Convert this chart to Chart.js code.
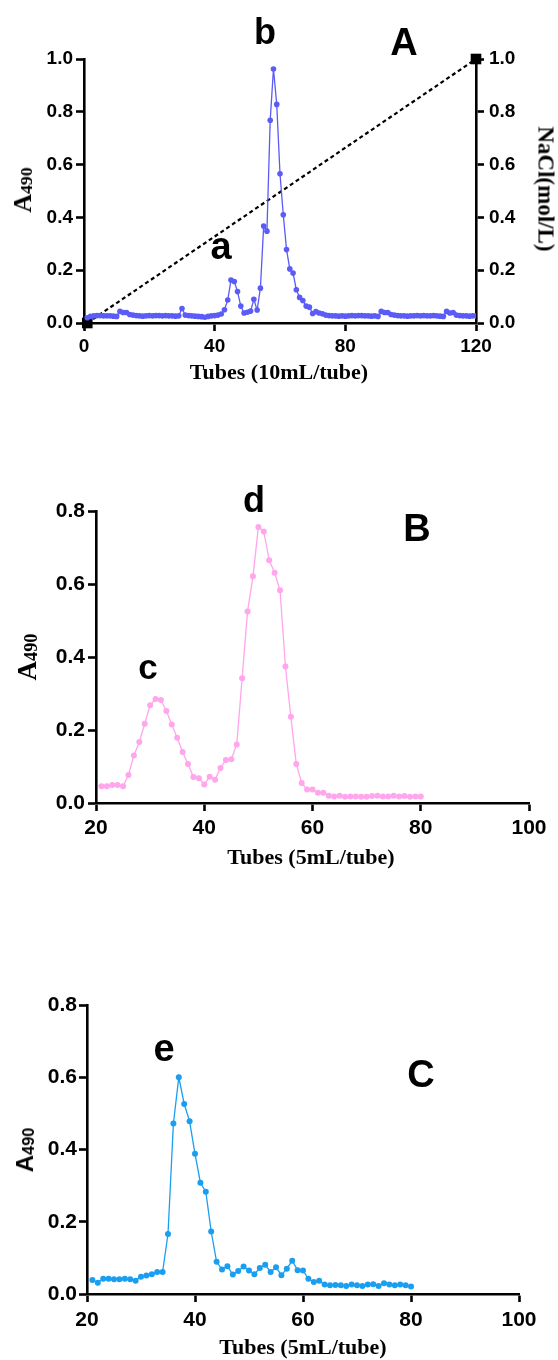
<!DOCTYPE html>
<html>
<head>
<meta charset="utf-8">
<script src="https://cdn.jsdelivr.net/npm/chart.js@4"></script>
<style>
    body { margin: 0; background: #fff; }
    #page { position: relative; width: 558px; height: 1360px; overflow: hidden; background: #fff; }
    .panel { position: absolute; left: 0; }
    .txt { position: absolute; white-space: nowrap; line-height: 1; color: #000; font-weight: bold; }
    .sans { font-family: 'Liberation Sans', Arial, sans-serif; }
    .serif { font-family: 'Liberation Serif', 'Times New Roman', serif; }
    .letter { transform: translateX(-50%); }
    .rot-l { transform: translate(-50%, -50%) rotate(-90deg); }
    .rot-r { transform: translate(-50%, -50%) rotate(90deg); }
    sub { font-size: 0.68em; vertical-align: -1px; }
</style>
</head>
<body>
<div id="page">
    <div class="panel" style="top:0px"><canvas id="chartA" width="558" height="400"></canvas></div>
    <div class="panel" style="top:440px"><canvas id="chartB" width="558" height="440"></canvas></div>
    <div class="panel" style="top:960px"><canvas id="chartC" width="558" height="400"></canvas></div>

    <!-- panel A texts -->
    <div class="txt sans letter" style="left:265px; top:14px; font-size:36px;">b</div>
    <div class="txt sans letter" style="left:404px; top:23px; font-size:38px;">A</div>
    <div class="txt sans letter" style="left:221px; top:227px; font-size:38px;">a</div>
    <div class="txt serif letter" style="left:279px; top:361px; font-size:22px;">Tubes (10mL/tube)</div>
    <div class="txt serif rot-l" style="left:23px; top:190px; font-size:26px;">A<sub>490</sub></div>
    <div class="txt serif rot-r" style="left:546px; top:189px; font-size:23px;">NaCl(mol/L)</div>

    <!-- panel B texts -->
    <div class="txt sans letter" style="left:254px; top:482px; font-size:36px;">d</div>
    <div class="txt sans letter" style="left:417px; top:509px; font-size:38px;">B</div>
    <div class="txt sans letter" style="left:148px; top:649px; font-size:35px;">c</div>
    <div class="txt serif letter" style="left:311px; top:846px; font-size:22px;">Tubes (5mL/tube)</div>
    <div class="txt serif rot-l" style="left:27px; top:657px; font-size:27px;">A<sub>490</sub></div>

    <!-- panel C texts -->
    <div class="txt sans letter" style="left:164px; top:1029px; font-size:38px;">e</div>
    <div class="txt sans letter" style="left:421px; top:1055px; font-size:38px;">C</div>
    <div class="txt serif letter" style="left:303px; top:1336px; font-size:22px;">Tubes (5mL/tube)</div>
    <div class="txt sans rot-l" style="left:25px; top:1150px; font-size:24px;">A<sub>490</sub></div>
</div>

<script>
// panel A: DEAE column, tubes 1..120 (10 mL/tube)
const absA = [
    0.020, 0.025, 0.027, 0.028, 0.028, 0.027, 0.027, 0.027, 0.026, 0.025,
    0.044, 0.040, 0.040, 0.032, 0.030, 0.028, 0.027, 0.026, 0.027, 0.028,
    0.027, 0.028, 0.028, 0.027, 0.028, 0.027, 0.027, 0.026, 0.027, 0.055,
    0.030, 0.028, 0.027, 0.026, 0.025, 0.024, 0.022, 0.025, 0.027, 0.028,
    0.030, 0.034, 0.050, 0.087, 0.163, 0.157, 0.119, 0.064, 0.038, 0.041,
    0.045, 0.090, 0.049, 0.132, 0.367, 0.348, 0.768, 0.962, 0.828, 0.565,
    0.410, 0.278, 0.205, 0.189, 0.126, 0.097, 0.085, 0.064, 0.060, 0.036,
    0.043, 0.038, 0.035, 0.030, 0.028, 0.027, 0.027, 0.026, 0.027, 0.026,
    0.027, 0.028, 0.027, 0.028, 0.028, 0.027, 0.027, 0.026, 0.027, 0.025,
    0.044, 0.040, 0.040, 0.032, 0.030, 0.028, 0.027, 0.027, 0.026, 0.027,
    0.027, 0.028, 0.027, 0.028, 0.027, 0.027, 0.028, 0.027, 0.026, 0.025,
    0.044, 0.038, 0.040, 0.030, 0.028, 0.027, 0.027, 0.026, 0.027, 0.027
];
const naclTubes = [1, 120];
const naclConc = [0.0, 1.0];

// panel B: tubes 21..80 (5 mL/tube)
const absB = [
    0.046, 0.046, 0.049, 0.049, 0.046, 0.077, 0.130, 0.167, 0.217, 0.268,
    0.285, 0.282, 0.252, 0.215, 0.179, 0.140, 0.107, 0.071, 0.068, 0.051,
    0.072, 0.064, 0.096, 0.118, 0.120, 0.160, 0.342, 0.525, 0.621, 0.756,
    0.744, 0.665, 0.631, 0.583, 0.374, 0.236, 0.107, 0.055, 0.037, 0.037,
    0.028, 0.028, 0.020, 0.018, 0.020, 0.017, 0.018, 0.018, 0.017, 0.017,
    0.019, 0.020, 0.018, 0.018, 0.020, 0.018, 0.019, 0.017, 0.018, 0.018
];

// panel C: tubes 21..80 (5 mL/tube)
const absC = [
    0.039, 0.031, 0.042, 0.042, 0.041, 0.041, 0.042, 0.041, 0.037, 0.048,
    0.051, 0.055, 0.061, 0.061, 0.166, 0.472, 0.600, 0.526, 0.478, 0.388,
    0.308, 0.283, 0.173, 0.089, 0.068, 0.077, 0.054, 0.064, 0.076, 0.065,
    0.055, 0.072, 0.081, 0.061, 0.074, 0.052, 0.070, 0.092, 0.066, 0.065,
    0.042, 0.033, 0.037, 0.026, 0.024, 0.025, 0.024, 0.022, 0.026, 0.024,
    0.022, 0.026, 0.027, 0.022, 0.030, 0.026, 0.024, 0.026, 0.024, 0.021
];

const firstTubeA = 1;
const firstTubeBC = 21;

function toPoints(values, first) {
    return values.map(function(v, i) { return { x: first + i, y: v }; });
}

function axisStyle(extra) {
    const base = {
        border: { display: true, color: '#000', width: 2.6 },
        grid: { display: true, drawOnChartArea: false, drawTicks: true, tickLength: 8, tickWidth: 2.6, tickColor: '#000' },
        ticks: { color: '#000' }
    };
    return Object.assign(base, extra);
}

function fixWidth(w) { return function(scale) { scale.width = w; }; }
function fixHeight(h) { return function(scale) { scale.height = h; }; }

document.addEventListener("DOMContentLoaded", function() {

    Chart.defaults.font.family = "'Liberation Sans', Arial, sans-serif";
    Chart.defaults.font.weight = 'bold';
    Chart.defaults.color = '#000';

    const oneDecimal = function(value) { return value.toFixed(1); };

    // ---- panel A ----
    const xA = axisStyle({ type: 'linear', min: 0, max: 120, afterFit: fixHeight(77) });
    xA.ticks = { color: '#000', stepSize: 40, padding: 4, font: { size: 19, weight: 'bold' } };
    const yA = axisStyle({ type: 'linear', position: 'left', min: 0, max: 1.0, afterFit: fixWidth(84) });
    yA.ticks = { color: '#000', stepSize: 0.2, padding: 3, callback: oneDecimal, font: { size: 19, weight: 'bold' } };
    const y2A = axisStyle({ type: 'linear', position: 'right', min: 0, max: 1.0, afterFit: fixWidth(82) });
    y2A.ticks = { color: '#000', stepSize: 0.2, padding: 5, callback: oneDecimal, font: { size: 19, weight: 'bold' } };

    new Chart(document.getElementById('chartA'), {
        type: 'scatter',
        data: {
            datasets: [
                {
                    label: 'A490',
                    data: toPoints(absA, firstTubeA),
                    showLine: true,
                    borderColor: '#5b5bf7',
                    backgroundColor: '#5b5bf7',
                    borderWidth: 1.3,
                    pointRadius: 2.8,
                    pointBorderWidth: 0,
                    yAxisID: 'y'
                },
                {
                    label: 'NaCl',
                    data: naclTubes.map(function(t, i) { return { x: t, y: naclConc[i] }; }),
                    showLine: true,
                    borderColor: '#000',
                    backgroundColor: '#000',
                    borderWidth: 2.2,
                    borderDash: [4, 3],
                    pointStyle: 'rect',
                    pointRadius: 7.5,
                    pointBorderWidth: 0,
                    clip: false,
                    yAxisID: 'y2'
                }
            ]
        },
        options: {
            responsive: false,
            animation: false,
            layout: { padding: { top: 59, left: 0, right: 0, bottom: 0 } },
            scales: { x: xA, y: yA, y2: y2A },
            plugins: { legend: { display: false }, tooltip: { enabled: false } }
        }
    });

    // ---- panel B ----
    const xB = axisStyle({ type: 'linear', min: 20, max: 100, afterFit: fixHeight(77) });
    xB.ticks = { color: '#000', stepSize: 20, padding: 5, font: { size: 21, weight: 'bold' } };
    const yB = axisStyle({ type: 'linear', position: 'left', min: 0, max: 0.8, afterFit: fixWidth(96) });
    yB.ticks = { color: '#000', stepSize: 0.2, padding: 3, callback: oneDecimal, font: { size: 21, weight: 'bold' } };

    new Chart(document.getElementById('chartB'), {
        type: 'scatter',
        data: {
            datasets: [{
                label: 'A490',
                data: toPoints(absB, firstTubeBC),
                showLine: true,
                borderColor: '#ffa6ec',
                backgroundColor: '#ffa6ec',
                borderWidth: 1.3,
                pointRadius: 3,
                pointBorderWidth: 0
            }]
        },
        options: {
            responsive: false,
            animation: false,
            layout: { padding: { top: 71, left: 0, right: 29, bottom: 0 } },
            scales: { x: xB, y: yB },
            plugins: { legend: { display: false }, tooltip: { enabled: false } }
        }
    });

    // ---- panel C ----
    const xC = axisStyle({ type: 'linear', min: 20, max: 100, afterFit: fixHeight(66) });
    xC.ticks = { color: '#000', stepSize: 20, padding: 6, font: { size: 21, weight: 'bold' } };
    const yC = axisStyle({ type: 'linear', position: 'left', min: 0, max: 0.8, afterFit: fixWidth(87) });
    yC.ticks = { color: '#000', stepSize: 0.2, padding: 2, callback: oneDecimal, font: { size: 21, weight: 'bold' } };

    new Chart(document.getElementById('chartC'), {
        type: 'scatter',
        data: {
            datasets: [{
                label: 'A490',
                data: toPoints(absC, firstTubeBC),
                showLine: true,
                borderColor: '#1a9ff0',
                backgroundColor: '#1a9ff0',
                borderWidth: 1.3,
                pointRadius: 3,
                pointBorderWidth: 0
            }]
        },
        options: {
            responsive: false,
            animation: false,
            layout: { padding: { top: 45, left: 0, right: 39, bottom: 0 } },
            scales: { x: xC, y: yC },
            plugins: { legend: { display: false }, tooltip: { enabled: false } }
        }
    });
});
</script>
</body>
</html>
